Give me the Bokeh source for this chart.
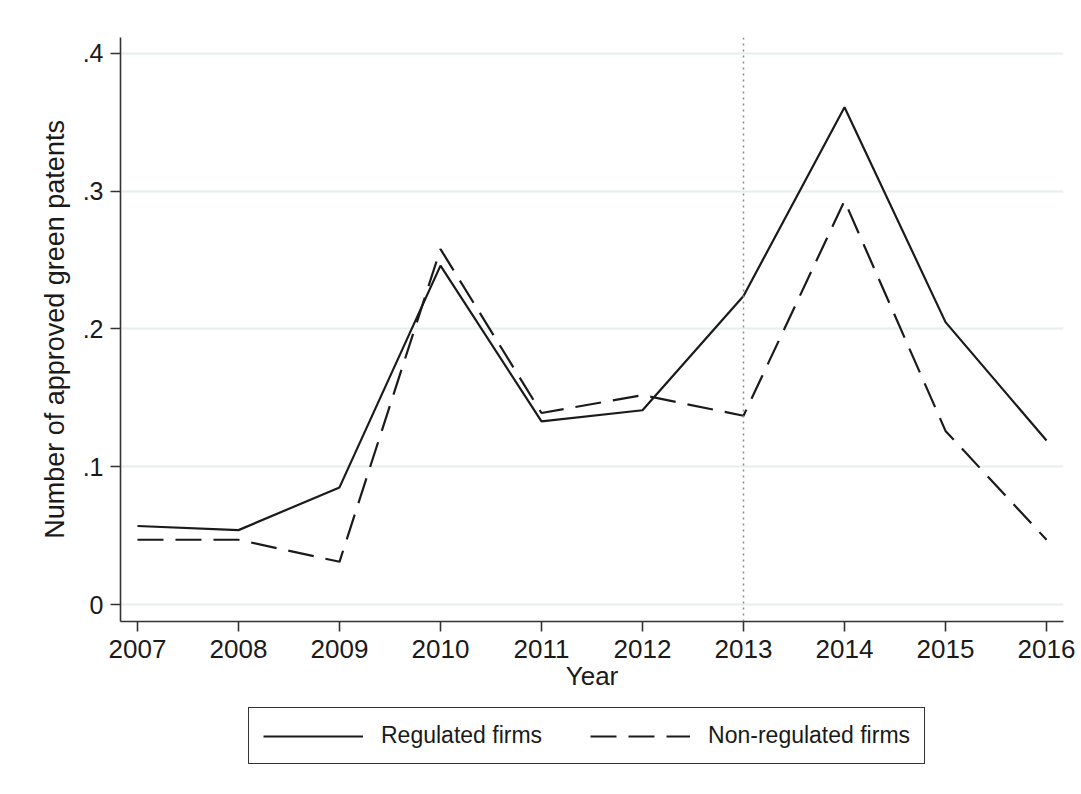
from bokeh.plotting import figure
from bokeh.layouts import column
from bokeh.models import FixedTicker, Legend, LegendItem, Span
from bokeh.embed import file_html
from bokeh.resources import INLINE

years = [2007, 2008, 2009, 2010, 2011, 2012, 2013, 2014, 2015, 2016]
regulated = [0.057, 0.054, 0.085, 0.246, 0.133, 0.141, 0.224, 0.361, 0.205, 0.119]
non_regulated = [0.047, 0.047, 0.031, 0.258, 0.139, 0.152, 0.137, 0.293, 0.126, 0.047]
y_ticks = [0, 0.1, 0.2, 0.3, 0.4]
y_tick_labels = ["0", ".1", ".2", ".3", ".4"]
series_labels = ["Regulated firms", "Non-regulated firms"]
policy_year = 2013

FONT = "Liberation Sans"
INK = "#1a1a1a"
DASH = "26 12"
LW = 2.2

p = figure(width=1078, height=700, output_backend="svg", toolbar_location=None,
           x_range=(2006.832, 2016.168), y_range=(-0.01234, 0.4116),
           min_border_left=120, min_border_right=15, min_border_top=37,
           min_border_bottom=79)
p.outline_line_color = None
p.background_fill_color = "white"
p.border_fill_color = "white"

p.xgrid.grid_line_color = None
p.ygrid.grid_line_color = "#e6eef0"
p.ygrid.grid_line_width = 2

p.xaxis.ticker = FixedTicker(ticks=years)
p.yaxis.ticker = FixedTicker(ticks=y_ticks)
p.yaxis.major_label_overrides = {t: l for t, l in zip(y_ticks, y_tick_labels)}
p.xaxis.minor_tick_line_color = None
p.yaxis.minor_tick_line_color = None
for ax in (p.xaxis, p.yaxis):
    ax.axis_line_color = "#333333"
    ax.axis_line_width = 1.6
    ax.major_tick_line_color = "#333333"
    ax.major_tick_line_width = 1.6
    ax.major_tick_out = 10
    ax.major_tick_in = 0
    ax.major_label_text_font = FONT
    ax.major_label_text_color = INK
    ax.axis_label_text_font = FONT
    ax.axis_label_text_font_style = "normal"
    ax.axis_label_text_color = INK

p.xaxis.major_label_text_font_size = "26px"
p.yaxis.major_label_text_font_size = "25px"
p.xaxis.major_label_standoff = 8
p.yaxis.major_label_standoff = 7
p.yaxis.major_label_orientation = "horizontal"
p.xaxis.axis_label = "Year"
p.xaxis.axis_label_text_font_size = "26px"
p.xaxis.axis_label_standoff = 0
p.yaxis.axis_label = "Number of approved green patents"
p.yaxis.axis_label_text_font_size = "27px"
p.yaxis.axis_label_standoff = 10

vline = Span(location=policy_year, dimension="height", line_color="#8a8a8a",
             line_width=1.5, line_dash="2 4")
p.add_layout(vline)

p.line(years, regulated, line_color=INK, line_width=LW)
p.line(years, non_regulated, line_color=INK, line_width=LW, line_dash=DASH)

# legend panel below the chart (its key renderers hold the series, outside its view range)
lg = figure(width=1078, height=86, output_backend="svg", toolbar_location=None,
            x_axis_location=None, y_axis_location=None,
            x_range=(0, 1), y_range=(0, 1),
            min_border_left=0, min_border_right=0, min_border_top=0, min_border_bottom=0)
lg.outline_line_color = None
lg.xgrid.visible = False
lg.ygrid.visible = False
k1 = lg.line(years, regulated, line_color=INK, line_width=LW)
k2 = lg.line(years, non_regulated, line_color=INK, line_width=LW, line_dash=DASH)

legend = Legend(items=[LegendItem(label=series_labels[0], renderers=[k1]),
                       LegendItem(label=series_labels[1], renderers=[k2])],
                location=(128, 22), orientation="horizontal")
legend.label_text_font = FONT
legend.label_text_font_size = "23px"
legend.label_text_color = INK
legend.glyph_width = 100
legend.glyph_height = 24
legend.label_standoff = 18
legend.spacing = 48
legend.padding = 14
legend.margin = 0
legend.border_line_color = "#333333"
legend.border_line_alpha = 1
legend.border_line_width = 1.6
legend.background_fill_alpha = 1
lg.add_layout(legend, "center")

layout = column(p, lg, spacing=0)
open("out.html", "w").write(file_html(layout, INLINE))
